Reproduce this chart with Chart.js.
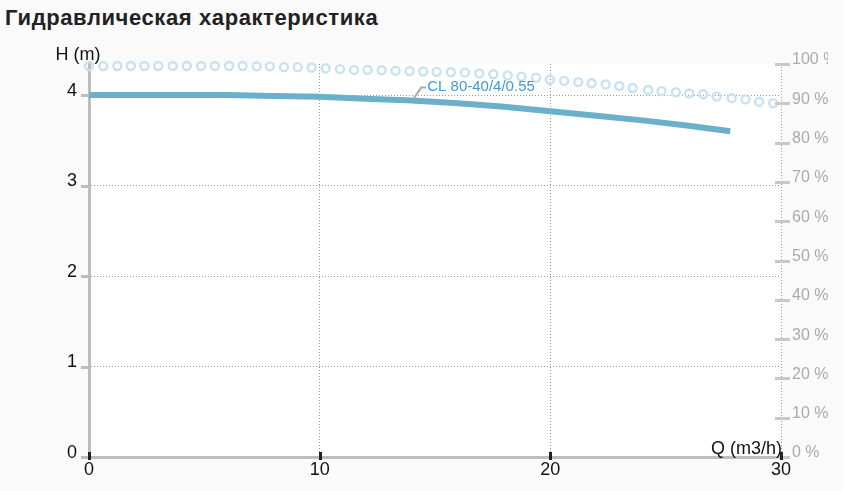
<!DOCTYPE html>
<html lang="ru">
<head>
  <meta charset="UTF-8" />
  <title>Гидравлическая характеристика</title>
  <script src="https://cdn.jsdelivr.net/npm/chart.js"></script>
  <style>
    html, body { margin: 0; padding: 0; background: #fafafa; }
    body { width: 843px; height: 491px; position: relative; overflow: hidden; font-family: "Liberation Sans", Arial, sans-serif; }
    h2 { position: absolute; left: 5px; top: 5px; margin: 0; font-size: 22px; line-height: 25px; letter-spacing: 0.6px; font-weight: bold; color: #222; }
    #chart { position: absolute; left: 0; top: 0; }
  </style>
</head>
<body>
  <h2>Гидравлическая характеристика</h2>
  <canvas id="chart" width="828" height="491"></canvas>

  <script>
    // head curve, Q (m3/h) -> H (m)
    const flowQ = [0, 2, 4, 6, 8, 10, 12, 14, 16, 18, 20, 22, 24, 26, 27.8];
    const headH = [4.00, 4.00, 4.00, 4.00, 3.99, 3.98, 3.96, 3.94, 3.91, 3.87, 3.82, 3.77, 3.72, 3.66, 3.60];

    // efficiency curve (right axis, %)
    const effQ = [0, 0.62, 1.23, 1.82, 2.40, 3.00, 3.63, 4.24, 4.86, 5.46, 6.07, 6.66, 7.27, 7.84, 8.45,
      9.05, 9.65, 10.26, 10.88, 11.49, 12.08, 12.69, 13.29, 13.90, 14.49, 15.07, 15.69, 16.30, 16.92, 17.53,
      18.15, 18.75, 19.38, 19.98, 20.60, 21.21, 21.79, 22.40, 22.99, 23.57, 24.24, 24.82, 25.44, 26.02, 26.63,
      27.21, 27.86, 28.46, 29.05, 29.66];
    const effPct = [99.5, 99.5, 99.5, 99.5, 99.5, 99.5, 99.5, 99.5, 99.5, 99.5, 99.5, 99.5, 99.4, 99.4, 99.2,
      99.2, 99.1, 98.9, 98.7, 98.5, 98.5, 98.4, 98.3, 98.2, 98.1, 98.0, 97.9, 97.8, 97.6, 97.4,
      97.1, 96.8, 96.5, 96.0, 95.7, 95.4, 95.1, 94.8, 94.4, 93.9, 93.4, 93.1, 92.8, 92.5, 92.3,
      91.7, 91.3, 91.0, 90.4, 90.0];

    const qTicks = [0, 10, 20, 30];
    const hTicks = [0, 1, 2, 3, 4];
    const pctTicks = [0, 10, 20, 30, 40, 50, 60, 70, 80, 90, 100];

    const curveName = "CL 80-40/4/0.55";
    const curveLabelQ = 14.1;

    const FONT = '"Liberation Sans", Arial, sans-serif';

    function headAt(q) {
      for (let i = 1; i < flowQ.length; i++) {
        if (q <= flowQ[i]) {
          const t = (q - flowQ[i - 1]) / (flowQ[i] - flowQ[i - 1]);
          return headH[i - 1] + t * (headH[i] - headH[i - 1]);
        }
      }
      return headH[headH.length - 1];
    }

    const decor = {
      id: "decor",
      beforeDraw(chart) {
        const { ctx, chartArea: a } = chart;
        ctx.save();
        ctx.fillStyle = "#fff";
        ctx.fillRect(a.left, a.top, a.right - a.left, a.bottom - a.top);
        ctx.restore();
      },
      afterDraw(chart) {
        const { ctx, chartArea: a, scales } = chart;
        ctx.save();
        ctx.lineWidth = 3;

        // left ticks
        ctx.strokeStyle = "#bdbdbd";
        scales.y.ticks.forEach(t => {
          const y = Math.round(scales.y.getPixelForValue(t.value)) + 0.5;
          ctx.beginPath(); ctx.moveTo(a.left - 8, y); ctx.lineTo(a.left, y); ctx.stroke();
        });
        // right ticks
        ctx.strokeStyle = "#c8c8c8";
        scales.y2.ticks.forEach(t => {
          const y = Math.round(scales.y2.getPixelForValue(t.value)) + 0.5;
          ctx.beginPath(); ctx.moveTo(a.right - 6, y); ctx.lineTo(a.right + 9, y); ctx.stroke();
        });
        // bottom ticks
        ctx.strokeStyle = "#222";
        scales.x.ticks.forEach(t => {
          const x = Math.round(scales.x.getPixelForValue(t.value)) + 0.5;
          ctx.beginPath(); ctx.moveTo(x, a.bottom - 5); ctx.lineTo(x, a.bottom + 3); ctx.stroke();
        });

        // axis titles
        ctx.fillStyle = "#111";
        ctx.font = "18px " + FONT;
        ctx.textBaseline = "middle";
        ctx.textAlign = "center";
        ctx.fillText("H (m)", a.left - 11, a.top - 9);
        ctx.textAlign = "right";
        ctx.fillText("Q (m3/h)", a.right + 1, a.bottom - 8);

        // curve label with leader
        const px = scales.x.getPixelForValue(curveLabelQ);
        const py = scales.y.getPixelForValue(headAt(curveLabelQ));
        ctx.strokeStyle = "#aaa";
        ctx.lineWidth = 2;
        ctx.beginPath();
        ctx.moveTo(px, py - 3);
        ctx.lineTo(px + 7, py - 13);
        ctx.lineTo(px + 12, py - 13);
        ctx.stroke();
        ctx.fillStyle = "#3d9ad6";
        ctx.font = "15px " + FONT;
        ctx.textAlign = "left";
        ctx.fillText(curveName, px + 13, py - 14);
        ctx.restore();
      }
    };

    const hideZero = c => (c.tick && c.tick.value === 0 ? "rgba(0,0,0,0)" : "#999");

    new Chart(document.getElementById("chart"), {
      type: "scatter",
      data: {
        datasets: [
          {
            label: "eff",
            data: effQ.map((q, i) => ({ x: q, y: effPct[i] })),
            yAxisID: "y2",
            showLine: false,
            pointRadius: 4,
            pointBorderWidth: 2.4,
            pointBorderColor: "#c8e2f1",
            pointBackgroundColor: "rgba(255,255,255,0)",
            clip: false
          },
          {
            label: curveName,
            data: flowQ.map((q, i) => ({ x: q, y: headH[i] })),
            yAxisID: "y",
            showLine: true,
            borderColor: "#6ab0ca",
            borderWidth: 6,
            pointRadius: 0,
            tension: 0
          }
        ]
      },
      options: {
        responsive: false,
        animation: false,
        events: [],
        layout: { padding: { top: 64, left: 0, right: 0, bottom: 0 } },
        plugins: { legend: { display: false }, tooltip: { enabled: false } },
        scales: {
          x: {
            type: "linear",
            position: "bottom",
            min: 0,
            max: 30,
            afterBuildTicks: s => { s.ticks = qTicks.map(v => ({ value: v })); },
            afterFit: s => { s.height = 34; },
            ticks: { color: "#111", font: { size: 18, family: FONT }, padding: 2, maxRotation: 0 },
            grid: { color: hideZero, lineWidth: 1, drawTicks: false },
            border: { color: "#bdbdbd", width: 3, dash: [1, 2] }
          },
          y: {
            type: "linear",
            position: "left",
            min: 0,
            max: 4.343,
            afterBuildTicks: s => { s.ticks = hTicks.map(v => ({ value: v })); },
            afterFit: s => { s.width = 89; },
            ticks: { color: "#111", font: { size: 18, family: FONT }, padding: 12, labelOffset: -4 },
            grid: { color: hideZero, lineWidth: 1, drawTicks: false },
            border: { color: "#bdbdbd", width: 3, dash: [1, 2] }
          },
          y2: {
            type: "linear",
            position: "right",
            min: 0,
            max: 100,
            afterBuildTicks: s => { s.ticks = pctTicks.map(v => ({ value: v })); },
            afterFit: s => { s.width = 47; },
            ticks: { color: "#aaa", font: { size: 16, family: FONT }, padding: 11, labelOffset: -4,
              callback: v => v + " %" },
            grid: { drawOnChartArea: false, drawTicks: false },
            border: { display: false }
          }
        }
      },
      plugins: [decor]
    });
  </script>
</body>
</html>
